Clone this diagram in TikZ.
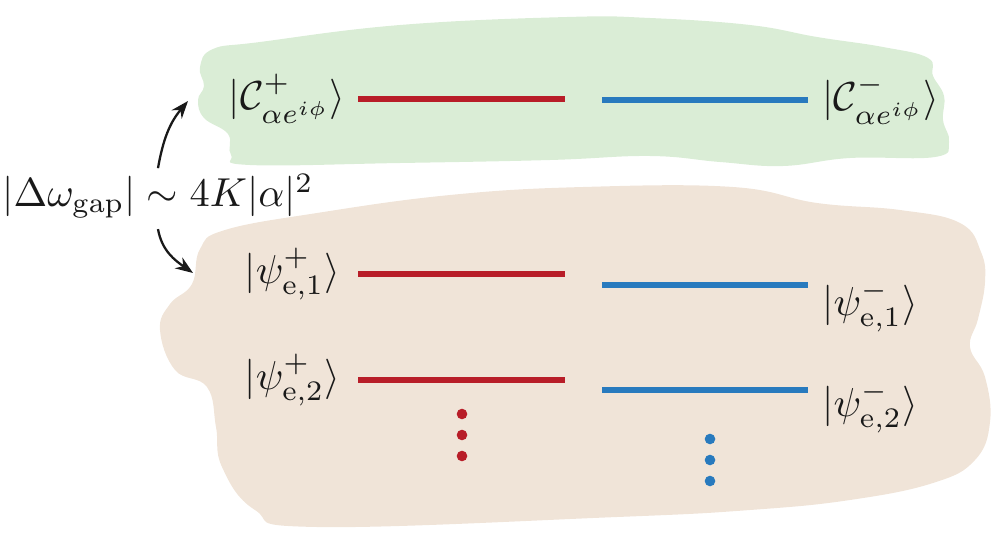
\RequirePackage{fix-cm}
\documentclass[tikz,border=0pt]{standalone}
\usepackage{xcolor}
\usepackage{tikz}
\usetikzlibrary{positioning,arrows.meta}

\definecolor{levelred}{RGB}{184,29,40}
\definecolor{levelblue}{RGB}{40,122,190}
\definecolor{catgreen}{RGB}{218,237,214}
\definecolor{excbeige}{RGB}{240,228,216}

\newcommand{\bigmath}[1]{\scalebox{2.3}{$#1$}}

\begin{document}
\begin{tikzpicture}[x=0.02cm, y=0.02cm,
        ket/.style={inner sep=0pt, text=black!90},
        plusline/.style={levelred, line width=3.4pt},
        minusline/.style={levelblue, line width=3.4pt},
        gaparrow/.style={-{Stealth[length=10pt, width=7.5pt]}, line width=1.3pt, black!90}
    ]
    \useasboundingbox (0,0) rectangle (996,552);

    % blobs
    \fill[catgreen] plot[smooth cycle, tension=0.7] coordinates {
        (213,503) (260,510) (400,527) (567,535) (650,534) (750,527) (817,515)
        (883,505) (928,494) (933,476) (944,456) (943,432) (949,410) (935,395)
        (850,394) (783,386) (720,390) (650,396) (550,392) (400,389) (250,387)
        (231,397) (228,418) (204,434) (198,452) (204,466) (200,485)
    };
    \fill[excbeige] plot[smooth cycle, tension=0.7] coordinates {
        (200,303) (225,322) (317,339) (450,357) (583,365) (733,365)
        (817,349) (900,342) (960,329) (981,300) (985,270) (978,233)
        (970,205) (985,175) (990,130) (975,92) (933,69)
        (850,52) (750,42) (617,35) (317,25) (255,42)
        (222,85) (216,125) (207,165) (175,182) (160,222)
        (170,248) (192,268)
    };

    % cat states
    \coordinate (cpa) at (358,453); \coordinate (cpb) at (565,453);
    \coordinate (cma) at (602,452); \coordinate (cmb) at (808,452);
    \draw[plusline] (cpa) -- (cpb);
    \draw[minusline] (cma) -- (cmb);
    \node[ket, left=7pt of cpa] (Cp) {\bigmath{|\mathcal{C}^{+}_{\alpha e^{i\phi}}\rangle}};
    \node[ket, right=8pt of cmb] (Cm) {\bigmath{|\mathcal{C}^{-}_{\alpha e^{i\phi}}\rangle}};

    % excited states
    \coordinate (ppa) at (358,278); \coordinate (ppb) at (565,278);
    \coordinate (pma) at (602,267); \coordinate (pmb) at (808,267);
    \draw[plusline] (ppa) -- (ppb);
    \draw[minusline] (pma) -- (pmb);
    \node[ket, left=10pt of ppa] (Pp1) {\bigmath{|\psi^{+}_{\mathrm{e},1}\rangle}};
    \node[ket, right=8pt of pmb, yshift=-12pt] (Pm1) {\bigmath{|\psi^{-}_{\mathrm{e},1}\rangle}};

    \coordinate (qpa) at (358,172); \coordinate (qpb) at (565,172);
    \coordinate (qma) at (602,162); \coordinate (qmb) at (808,162);
    \draw[plusline] (qpa) -- (qpb);
    \draw[minusline] (qma) -- (qmb);
    \node[ket, left=10pt of qpa] (Pp2) {\bigmath{|\psi^{+}_{\mathrm{e},2}\rangle}};
    \node[ket, right=8pt of qmb, yshift=-10pt] (Pm2) {\bigmath{|\psi^{-}_{\mathrm{e},2}\rangle}};

    \foreach \y in {138,117,96}
        \fill[levelred] (462,\y) circle (5.3);
    \foreach \y in {113,92,71}
        \fill[levelblue] (710,\y) circle (5.3);

    % gap
    \node[ket] (gap) at (158,356) {\bigmath{|\Delta\omega_{\mathrm{gap}}|\sim 4K|\alpha|^2}};
    \coordinate (upTip) at (188,451);
    \coordinate (lowTip) at (193,279);
    \draw[gaparrow] ([yshift=3pt]gap.north) to[out=80, in=230] (upTip);
    \draw[gaparrow] ([yshift=-6pt]gap.south) to[out=-80, in=145] (lowTip);
\end{tikzpicture}
\end{document}
